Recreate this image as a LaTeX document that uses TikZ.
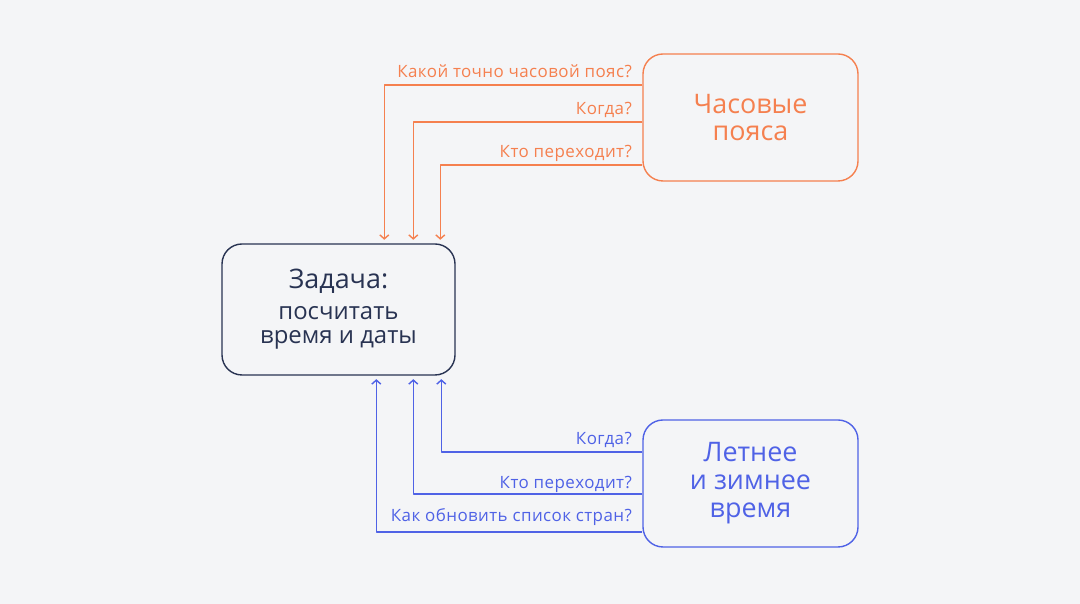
\documentclass[tikz,border=0pt]{standalone}
\usepackage{fontspec}
\setmainfont{Open Sans}
\usetikzlibrary{arrows.meta}
\definecolor{bgcol}{HTML}{F4F5F7}
\definecolor{orcol}{HTML}{F5804F}
\definecolor{blcol}{HTML}{4F62E6}
\definecolor{navcol}{HTML}{283352}
\tikzset{
  box/.style={draw,rounded corners=20bp,line width=1.4bp,align=center,inner sep=0pt},
  link/.style={line width=1.4bp,-{Straight Barb[length=4bp,width=9bp]},shorten >=3.5bp},
  quest/.style={anchor=base east,font=\fontsize{17}{20}\selectfont\addfontfeature{LetterSpace=2.5},inner sep=0pt},
}
\begin{document}
\begin{tikzpicture}[line join=bevel,x=1bp,y=1bp]
        %%
        \fill[bgcol] (0,0) rectangle (1080,604);
        \node (task) at (338.5bp,294.5bp) [box,navcol,minimum width=233bp,minimum height=131bp,font=\fontsize{24}{24}\selectfont] {{\fontsize{27}{27}\selectfont Задача:}\\[7bp]посчитать\\время и даты};
        \node (zones) at (750.5bp,486.5bp) [box,orcol,minimum width=215bp,minimum height=127bp,font=\fontsize{27}{27}\selectfont] {Часовые\\пояса};
        \node (summer) at (750.5bp,120.5bp) [box,blcol,minimum width=215bp,minimum height=127bp,font=\fontsize{27}{28}\selectfont] {Летнее\\и зимнее\\время};
        %% questions from the time zones
        \draw [orcol,link] ([yshift=32.5bp]zones.west) -| ([xshift=163bp]task.north west);
        \node (zq_1) at (632bp,526bp) [quest,orcol] {Какой точно часовой пояс?};
        \draw [orcol,link] ([yshift=-4.5bp]zones.west) -| ([xshift=192bp]task.north west);
        \node (zq_2) at (632bp,489bp) [quest,orcol] {Когда?};
        \draw [orcol,link] ([yshift=-47.5bp]zones.west) -| ([xshift=219bp]task.north west);
        \node (zq_3) at (632bp,446bp) [quest,orcol] {Кто переходит?};
        %% questions from summer time
        \draw [blcol,link] ([yshift=31.5bp]summer.west) -| ([xshift=220bp]task.south west);
        \node (sq_1) at (632bp,159bp) [quest,blcol] {Когда?};
        \draw [blcol,link] ([yshift=-10.5bp]summer.west) -| ([xshift=192bp]task.south west);
        \node (sq_2) at (632bp,115bp) [quest,blcol] {Кто переходит?};
        \draw [blcol,link] ([yshift=-48.5bp]summer.west) -| ([xshift=155bp]task.south west);
        \node (sq_3) at (632bp,82bp) [quest,blcol] {Как обновить список стран?};
        %
\end{tikzpicture}
\end{document}
